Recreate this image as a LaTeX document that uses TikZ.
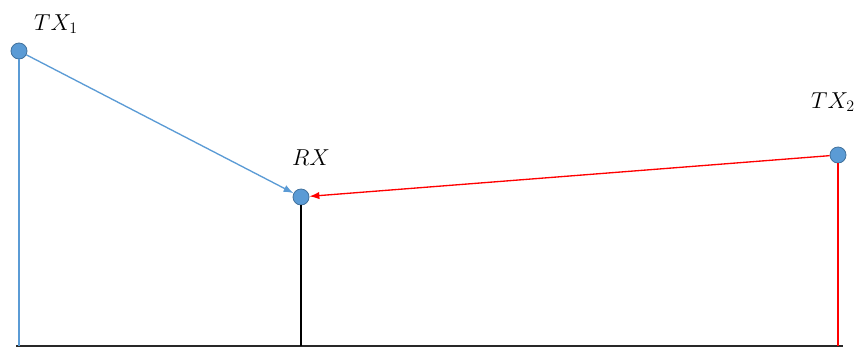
\documentclass[tikz,border=0pt]{standalone}
\usepackage{amsmath}
\usepackage{xcolor}
\usepackage{tikz}
\usetikzlibrary{arrows.meta,positioning,calc}
\definecolor{dotfill}{RGB}{91,155,213}
\definecolor{dotedge}{RGB}{65,113,156}
\definecolor{txblue}{RGB}{91,155,213}
\definecolor{txred}{RGB}{255,0,0}
\definecolor{gnd}{RGB}{40,40,40}
\tikzset{
  ant/.style={circle, fill=dotfill, draw=dotedge, line width=0.6pt,
    minimum size=12pt, inner sep=0pt},
  mast/.style={line width=1.9pt},
  ray/.style={-{Latex[length=7.5pt,width=5.5pt]}, line width=1pt},
  lbl/.style={font=\fontsize{18}{21}\selectfont, inner sep=0pt}
}
\begin{document}
\begin{tikzpicture}[x=0.75pt,y=-0.75pt]
  \useasboundingbox (0,0) rectangle (855,347);
  % ground
  \coordinate (gl) at (16,346);
  \coordinate (gr) at (843,346);
  \draw[gnd, line width=1.1pt] (gl) -- (gr);

  % antennas
  \node[ant] (tx1) at (19,51) {};
  \node[ant] (rx) at (301,197) {};
  \node[ant] (tx2) at (838,155) {};

  \draw[mast, txblue] (tx1) -- (tx1 |- gl);
  \draw[mast, black] (rx) -- (rx |- gl);
  \draw[mast, txred] (tx2) -- (tx2 |- gl);

  % links
  \draw[ray, txblue] (tx1) -- (rx);
  \draw[ray, txred] (tx2) -- (rx);

  \node[lbl] (tx1l) at (56,24) {$TX_1$};
  \node[lbl] (rxl) at (311,158) {$RX$};
  \node[lbl] (tx2l) at (833,102) {$TX_2$};
\end{tikzpicture}
\end{document}
